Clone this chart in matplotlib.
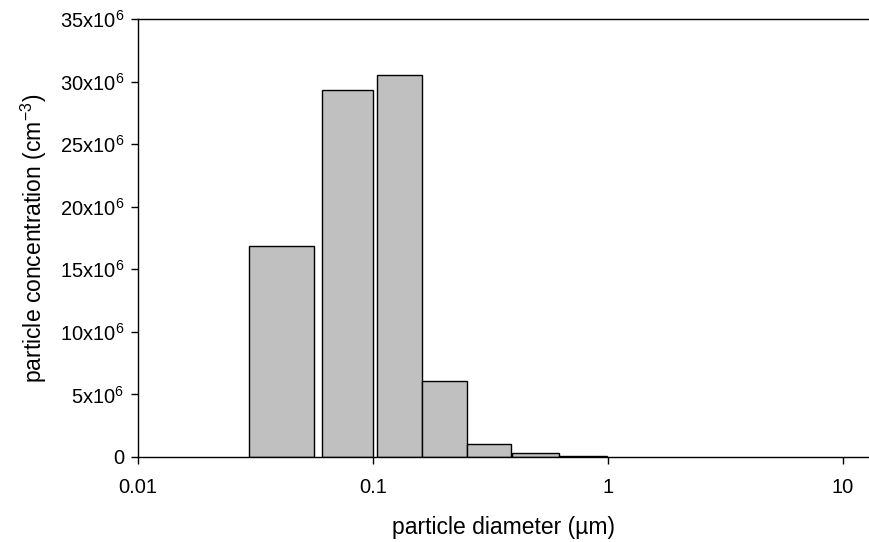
import matplotlib
matplotlib.use('Agg')
from matplotlib import pyplot as plt
from matplotlib import rcParams
from matplotlib.ticker import FixedLocator, FixedFormatter, NullLocator

rcParams['font.family'] = ['Liberation Sans', 'DejaVu Sans']
rcParams['font.size'] = 14
rcParams['mathtext.fontset'] = 'custom'
rcParams['mathtext.rm'] = 'Liberation Sans'

# size bins (lower / upper edge, um) and number concentration per bin (cm^-3)
bin_lo = [0.0297, 0.0607, 0.104, 0.1617, 0.251, 0.392, 0.619]
bin_hi = [0.0561, 0.0998, 0.1617, 0.251, 0.387, 0.619, 0.99]
conc = [16.9e6, 29.3e6, 30.5e6, 6.05e6, 1.03e6, 0.3e6, 0.1e6]

xticks = [0.01, 0.1, 1, 10]
xticklabels = ['0.01', '0.1', '1', '10']
yticks = [0, 5e6, 10e6, 15e6, 20e6, 25e6, 30e6, 35e6]
yticklabels = ['0'] + ['%dx10$^\\mathregular{6}$' % (v / 1e6) for v in yticks[1:]]

fig = plt.figure(figsize=(8.69, 5.42), dpi=100)
ax = fig.add_axes([138 / 869, 85 / 542, 1 - 138 / 869, (457 - 19) / 542])

widths = [hi - lo for lo, hi in zip(bin_lo, bin_hi)]
ax.bar(bin_lo, conc, width=widths, align='edge', color='#c0c0c0',
       edgecolor='black', linewidth=1)

ax.set_xscale('log')
ax.set_xlim(0.01, 12.9)
ax.set_ylim(0, 35e6)

ax.xaxis.set_major_locator(FixedLocator(xticks))
ax.xaxis.set_major_formatter(FixedFormatter(xticklabels))
ax.xaxis.set_minor_locator(NullLocator())
ax.yaxis.set_major_locator(FixedLocator(yticks))
ax.yaxis.set_major_formatter(FixedFormatter(yticklabels))
ax.tick_params(axis='both', direction='out', length=5, width=1, labelsize=14.5, pad=5)
ax.tick_params(axis='x', pad=10)

ax.spines['right'].set_visible(False)
for s in ['left', 'bottom', 'top']:
    ax.spines[s].set_linewidth(1)

ax.set_xlabel('particle diameter (\u00b5m)', fontsize=16.5, labelpad=14)
ax.set_ylabel('particle concentration (cm$^\\mathregular{-3}$)', fontsize=16.5, labelpad=8)

fig.savefig('out.png', dpi=100)
